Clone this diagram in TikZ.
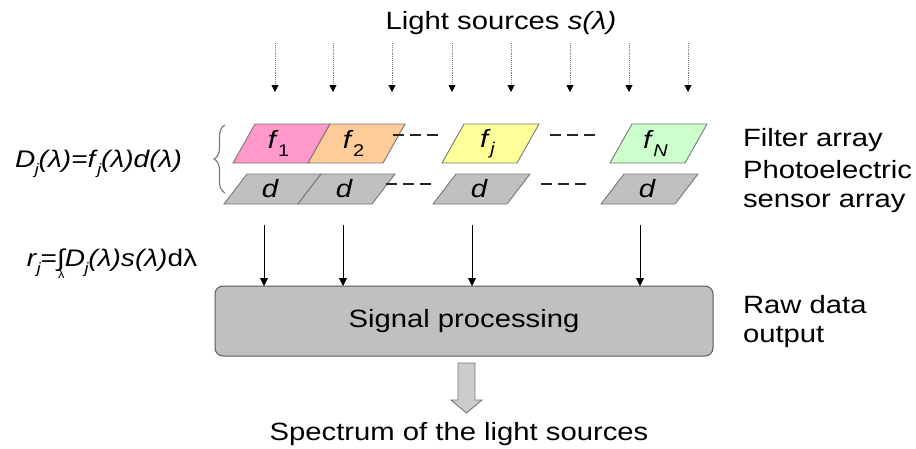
\documentclass[tikz,border=0pt]{standalone}
\usepackage{fontspec}
\setmainfont[FakeStretch=1.17]{Liberation Sans}
\usetikzlibrary{arrows.meta,decorations.pathreplacing}
\definecolor{pinkf}{HTML}{FF99CC}
\definecolor{orangef}{HTML}{FFCC99}
\definecolor{yellowf}{HTML}{FFFF99}
\definecolor{greenf}{HTML}{CCFFCC}
\definecolor{grayd}{HTML}{C0C0C0}
\definecolor{edgec}{HTML}{777777}
\definecolor{arrowfill}{HTML}{CCCCCC}
\newcommand\pgsub[1]{\kern-0.5pt\raisebox{-0.3em}{\fontsize{15}{15}\selectfont\itshape #1}}
\newcommand\fsub[1]{\kern-0.5pt\raisebox{-0.3em}{\fontsize{17}{17}\selectfont #1}}
\newcommand\pgram[7]{% name, bottom-left x, top y, bottom y, width, skew, fill
  \draw[pedge, fill=#7] (#2,#4) -- ({#2+#6},#3) -- ({#2+#6+#5},#3) -- ({#2+#5},#4) -- cycle;
  \coordinate (#1) at ({#2+#6/2+#5/2},{(#3+#4)/2});}
\begin{document}
\begin{tikzpicture}[x=1pt,y=-1pt,
  every node/.style={inner sep=0pt,outer sep=0pt},
  txt/.style={font=\fontsize{25}{29}\selectfont},
  eq/.style={font=\fontsize{24}{28}\selectfont},
  pedge/.style={draw=edgec,line width=0.9pt},
  dots/.style={black!85,line width=2pt,dash pattern=on 11pt off 6pt},
  lightarrow/.style={gray,line width=0.9pt,densely dotted,-{Triangle[width=7pt,length=7pt,color=black]}},
  sigarrow/.style={black,line width=0.9pt,-{Triangle[width=8pt,length=8pt]}},
  procbox/.style={draw=black!65,fill=grayd,line width=1pt,rounded corners=8pt,minimum width=498pt,minimum height=70pt}
]
\useasboundingbox (0,0) rectangle (916,448);

% title
\node[txt,anchor=base] (light) at (501,29) {Light sources \textit{s(λ)}};

% dotted light arrows
\foreach \i/\x in {1/275,2/333,3/392,4/452,5/511,6/570,7/629,8/688}{
  \coordinate (ls\i) at (\x,43);
  \coordinate (le\i) at (\x,92);
  \draw[lightarrow] (ls\i) -- (le\i);
}

% filter array
\pgram{F1}{233}{124}{163}{75}{22}{pinkf}
\pgram{F2}{308}{124}{163}{75}{22}{orangef}
\pgram{Fi}{442}{124}{163}{75}{22}{yellowf}
\pgram{FN}{610}{124}{163}{75}{22}{greenf}
\node[txt] (f1) at ([xshift=-3pt]F1) {\textit{f}\fsub{1}};
\node[txt] (f2) at ([xshift=-3pt]F2) {\textit{f}\fsub{2}};
\node[txt] (fi) at ([xshift=-3pt]Fi) {\textit{f}\fsub{\itshape j}};
\node[txt] (fN) at ([xshift=-3pt]FN) {\textit{f}\fsub{\itshape N}};
\coordinate (fa1) at (393,135); \coordinate (fb1) at (438,135);
\coordinate (fa2) at (550,135); \coordinate (fb2) at (595,135);
\draw[dots] (fa1) -- (fb1);
\draw[dots] (fa2) -- (fb2);

% sensor array
\pgram{D1}{224}{174}{204}{74}{23}{grayd}
\pgram{D2}{298}{174}{204}{74}{23}{grayd}
\pgram{Di}{433}{174}{204}{74}{23}{grayd}
\pgram{DN}{601}{174}{204}{74}{23}{grayd}
\node[txt] (d1) at ([xshift=-2pt]D1) {\textit{d}};
\node[txt] (d2) at ([xshift=-2pt]D2) {\textit{d}};
\node[txt] (di) at ([xshift=-2pt]Di) {\textit{d}};
\node[txt] (dN) at ([xshift=-2pt]DN) {\textit{d}};
\coordinate (da1) at (386,184); \coordinate (db1) at (431,184);
\coordinate (da2) at (541,184); \coordinate (db2) at (586,184);
\draw[dots] (da1) -- (db1);
\draw[dots] (da2) -- (db2);

% brace and equations
\coordinate (bt) at (225,125);
\coordinate (bb) at (225,193);
\draw[edgec,line width=1.1pt,decorate,decoration={brace,amplitude=11pt}] (bb) -- (bt);
\node[eq,anchor=base west] (eqD) at (15,167)
  {\textit{D}\pgsub{j}\textit{(λ)=f}\pgsub{j}\textit{(λ)d(λ)}};
\node[eq,anchor=base west] (eqR) at (27,266)
  {\textit{r}\pgsub{j}=\rlap{\kern1pt\raisebox{-0.5em}{\fontsize{11}{11}\selectfont λ}}∫\textit{D}\pgsub{j}\textit{(λ)s(λ)}dλ};

% processing box
\node[procbox] (proc) at (464,321) {};
\node[txt] (proct) at (proc) {Signal processing};

% sensor to processing arrows
\foreach \i/\x in {1/264,2/343,3/472,4/640}{
  \coordinate (ss\i) at (\x,225);
  \draw[sigarrow] (ss\i) -- (ss\i |- proc.north);
}

% output block arrow
\draw[draw=edgec,fill=arrowfill,line width=0.9pt]
  (458,363) -- (475,363) -- (475,400) -- (482,400) -- (466.5,413) -- (451,400) -- (458,400) -- cycle;
\node[txt,anchor=base] (spec) at (459,440) {Spectrum of the light sources};

% right labels
\node[txt,anchor=base west] (filt) at (743,146) {Filter array};
\node[txt,anchor=base west] (photo) at (743,178) {Photoelectric};
\node[txt,anchor=base west] (sens) at (743,207) {sensor array};
\node[txt,anchor=base west] (raw) at (743,313) {Raw data};
\node[txt,anchor=base west] (outp) at (743,342) {output};
\end{tikzpicture}
\end{document}
